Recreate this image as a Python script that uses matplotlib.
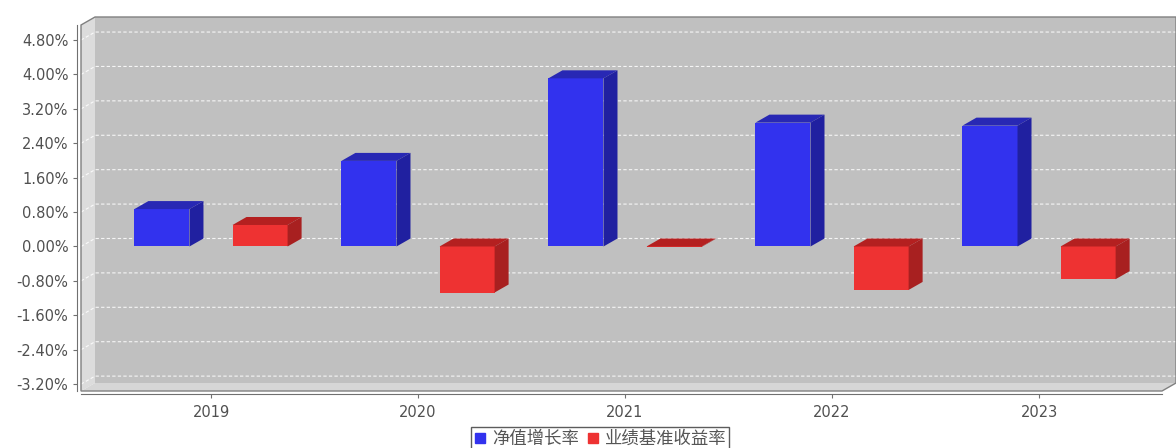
import matplotlib.pyplot as plt
from matplotlib.patches import Polygon
from matplotlib.lines import Line2D

plt.rcParams['font.family'] = ['Noto Sans CJK SC', 'DejaVu Sans']

years = ['2019', '2020', '2021', '2022', '2023']
nav_growth = [0.87, 1.99, 3.91, 2.88, 2.81]          # 净值增长率 (%)
benchmark = [0.50, -1.07, -0.01, -1.01, -0.76]        # 业绩基准收益率 (%)
y_ticks = [-3.2, -2.4, -1.6, -0.8, 0.0, 0.8, 1.6, 2.4, 3.2, 4.0, 4.8]
series_names = ['净值增长率', '业绩基准收益率']

blue = ['#3232EE', '#2828B4', '#2020A0']   # front, top, side
red = ['#EE3232', '#B42020', '#A82020']

fig = plt.figure(figsize=(11.76, 4.48), dpi=100)
ax = fig.add_axes([81 / 1176, 57 / 448, 1081 / 1176, 366 / 448])
ax.patch.set_visible(False)

xmin, xmax = -0.628, 4.594
ymin, ymax = -3.36, 5.15
ax.set_xlim(xmin, xmax)
ax.set_ylim(ymin, ymax)

# 3D offset in data units (about 14px right, 8px up)
dx = 14 / 207
dy = 8 / 43

# walls
back = Polygon([(xmin + dx, ymin + dy), (xmax + dx, ymin + dy), (xmax + dx, ymax + dy),
                (xmin + dx, ymax + dy)], closed=True, facecolor='#C0C0C0', edgecolor='none',
               clip_on=False, zorder=0)
left = Polygon([(xmin, ymin), (xmin + dx, ymin + dy), (xmin + dx, ymax + dy), (xmin, ymax)],
               closed=True, facecolor='#DCDCDC', edgecolor='none', clip_on=False, zorder=0)
floor = Polygon([(xmin, ymin), (xmax, ymin), (xmax + dx, ymin + dy), (xmin + dx, ymin + dy)],
                closed=True, facecolor='#D6D6D6', edgecolor='none', clip_on=False, zorder=0)
for p in (back, left, floor):
    ax.add_patch(p)

# grid lines on the back wall
for v in y_ticks:
    ax.plot([xmin, xmin + dx, xmax + dx], [v, v + dy, v + dy], color='white', lw=0.8,
            ls=(0, (3, 2)), alpha=0.85, clip_on=False, zorder=1)

# outline of the plot
outline = Polygon([(xmin, ymin), (xmin, ymax), (xmin + dx, ymax + dy), (xmax + dx, ymax + dy),
                   (xmax + dx, ymin + dy), (xmax, ymin)], closed=True, fill=False,
                  edgecolor='#808080', lw=1, clip_on=False, zorder=2)
ax.add_patch(outline)

width = 0.266
offset = 0.237


def draw_bars(pos, vals, cols):
    ax.bar(pos, vals, width=width, color=cols[0], zorder=3)
    for x, v in zip(pos, vals):
        x0, x1 = x - width / 2, x + width / 2
        top = max(v, 0)
        bot = min(v, 0)
        ax.add_patch(Polygon([(x0, top), (x1, top), (x1 + dx, top + dy), (x0 + dx, top + dy)],
                             closed=True, facecolor=cols[1], edgecolor='none', zorder=3))
        ax.add_patch(Polygon([(x1, bot), (x1, top), (x1 + dx, top + dy), (x1 + dx, bot + dy)],
                             closed=True, facecolor=cols[2], edgecolor='none', zorder=3))


idx = list(range(len(years)))
draw_bars([i - offset for i in idx], nav_growth, blue)
draw_bars([i + offset for i in idx], benchmark, red)

# axes
for s in ('top', 'right'):
    ax.spines[s].set_visible(False)
ax.spines['left'].set_position(('outward', 3))
ax.spines['bottom'].set_position(('outward', 2))
ax.spines['left'].set_color('#707070')
ax.spines['bottom'].set_color('#707070')
ax.set_yticks(y_ticks)
ax.set_yticklabels(['%.2f%%' % v for v in y_ticks], fontsize=10.5, color='#505050',
                   family='DejaVu Sans')
ax.set_xticks(idx)
ax.set_xticklabels(years, fontsize=10.5, color='#505050', family='DejaVu Sans')
ax.tick_params(axis='y', length=3, color='#707070', pad=3)
ax.tick_params(axis='x', length=3, color='#707070', pad=5)

handles = [Line2D([], [], marker='s', ls='none', color=blue[0], markersize=7),
           Line2D([], [], marker='s', ls='none', color=red[0], markersize=7)]
leg = fig.legend(handles, series_names, loc='upper center', bbox_to_anchor=(600 / 1176, 1 - 427 / 448),
                 ncol=2, fontsize=12.5, frameon=True, fancybox=False, handlelength=0.8,
                 handletextpad=0.3, columnspacing=0.4, borderpad=0.15, borderaxespad=0)
leg.get_frame().set_edgecolor('#333333')
leg.get_frame().set_linewidth(1)
for t in leg.get_texts():
    t.set_color('#555555')

fig.savefig('out.png', dpi=100, facecolor='white')
